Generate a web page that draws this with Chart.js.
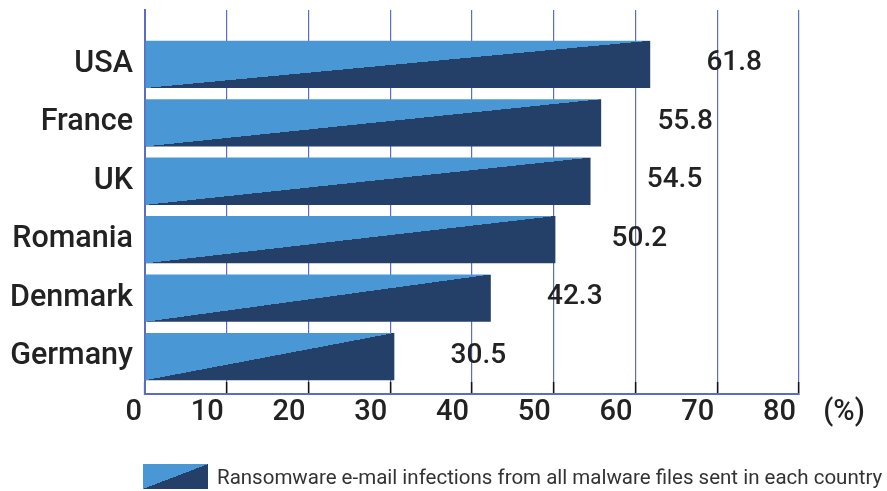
<!DOCTYPE html>
<html>
<head>
<meta charset="utf-8">
<script src="https://cdn.jsdelivr.net/npm/chart.js@4/dist/chart.umd.min.js"></script>
<style>
  html, body { margin: 0; padding: 0; background: #fff; }
  #wrap { position: relative; width: 887px; height: 491px; }
  #legend {
    position: absolute; left: 143px; top: 464px; height: 25px;
    display: flex; align-items: center; white-space: nowrap;
    font-family: Roboto, sans-serif; font-size: 20.5px; color: #333;
  }
  #legend .box {
    width: 65px; height: 25px; margin-right: 9px; flex: none;
    background: linear-gradient(to bottom right, #4998d5 50%, #243f68 50%);
  }
</style>
</head>
<body>
<div id="wrap">
  <canvas id="chart" width="887" height="491"></canvas>
  <div id="legend"><span class="box"></span><span>Ransomware e-mail infections from all malware files sent in each country</span></div>
</div>
<script>
/* ---- Données ---- */
const countries = ['USA', 'France', 'UK', 'Romania', 'Denmark', 'Germany'];
const shares    = [61.8, 55.8, 54.5, 50.2, 42.3, 30.5];
const xMin = 0, xMax = 80, xStep = 10;
const unitLabel = '(%)';

const LIGHT = '#4998d5';
const DARK  = '#243f68';
const GRID  = '#5b6cc4';
const TEXT  = '#222';
const BAR_FRACTION = 0.81;

Chart.defaults.font.family = 'Roboto, sans-serif';

/* ---- Remplissage en diagonale (triangle clair / triangle foncé) ---- */
function splitFill(ctx) {
  const chart = ctx.chart;
  if (!chart.chartArea || ctx.type !== 'data') return LIGHT;
  const xs = chart.scales.x, ys = chart.scales.y;
  const x0 = xs.getPixelForValue(0);
  const x1 = xs.getPixelForValue(ctx.parsed.x);
  const cy = ys.getPixelForValue(ctx.parsed.y);
  const h  = Math.abs(ys.getPixelForValue(1) - ys.getPixelForValue(0)) * BAR_FRACTION;
  const w  = x1 - x0;
  const cx = (x0 + x1) / 2;
  const g = chart.ctx.createLinearGradient(cx - h, cy - w, cx + h, cy + w);
  g.addColorStop(0, LIGHT);
  g.addColorStop(0.5, LIGHT);
  g.addColorStop(0.5, DARK);
  g.addColorStop(1, DARK);
  return g;
}

/* ---- Valeurs à droite des barres + unité ---- */
const valueLabels = {
  id: 'valueLabels',
  afterDatasetsDraw(chart) {
    const { ctx } = chart;
    const meta = chart.getDatasetMeta(0);
    ctx.save();
    ctx.fillStyle = TEXT;
    ctx.font = '500 28px Roboto, sans-serif';
    ctx.textAlign = 'center';
    ctx.textBaseline = 'middle';
    meta.data.forEach((bar, i) => {
      ctx.fillText(shares[i].toFixed(1), bar.x + 84, bar.y - 1);
    });
    const xs = chart.scales.x;
    ctx.font = '500 29px Roboto, sans-serif';
    ctx.fillText(unitLabel, xs.right + 45, xs.top + 19);
    ctx.restore();
  },
};

new Chart(document.getElementById('chart'), {
  type: 'bar',
  data: {
    datasets: [{
      data: shares.map((v, i) => ({ x: v, y: i })),
      backgroundColor: splitFill,
      borderWidth: 0,
      categoryPercentage: 1,
      barPercentage: BAR_FRACTION,
    }],
  },
  options: {
    indexAxis: 'y',
    responsive: false,
    animation: false,
    layout: { padding: { top: 10, right: 88, left: 0, bottom: 0 } },
    plugins: {
      legend: { display: false },
      tooltip: { enabled: false },
    },
    scales: {
      x: {
        type: 'linear',
        min: xMin,
        max: xMax,
        afterFit: s => { s.height = 97; },
        grid: {
          color: GRID,
          lineWidth: 1.2,
          tickLength: -12,
          tickColor: c => (c.tick && c.tick.value === 0 ? GRID : '#111'),
          tickWidth: 1.5,
        },
        border: { color: GRID, width: 2 },
        ticks: {
          stepSize: xStep,
          autoSkip: false,
          maxRotation: 0,
          align: 'end',
          labelOffset: -3,
          padding: 16,
          color: TEXT,
          font: { size: 29, weight: '500', lineHeight: 1 },
        },
      },
      y: {
        type: 'linear',
        reverse: true,
        offset: false,
        min: -0.93,
        max: 5.64,
        afterBuildTicks: s => { s.ticks = s.ticks.filter(t => Number.isInteger(t.value)); },
        afterFit: s => { s.width = 145; s.paddingTop = 0; s.paddingBottom = 0; },
        grid: { offset: false, drawOnChartArea: false, drawTicks: false },
        border: { color: GRID, width: 2 },
        ticks: {
          stepSize: 1,
          autoSkip: false,
          padding: 12,
          color: TEXT,
          font: { size: 30.5, weight: '500' },
          callback: v => (countries[v] !== undefined ? countries[v] : ''),
        },
      },
    },
  },
  plugins: [valueLabels],
});
</script>
</body>
</html>
